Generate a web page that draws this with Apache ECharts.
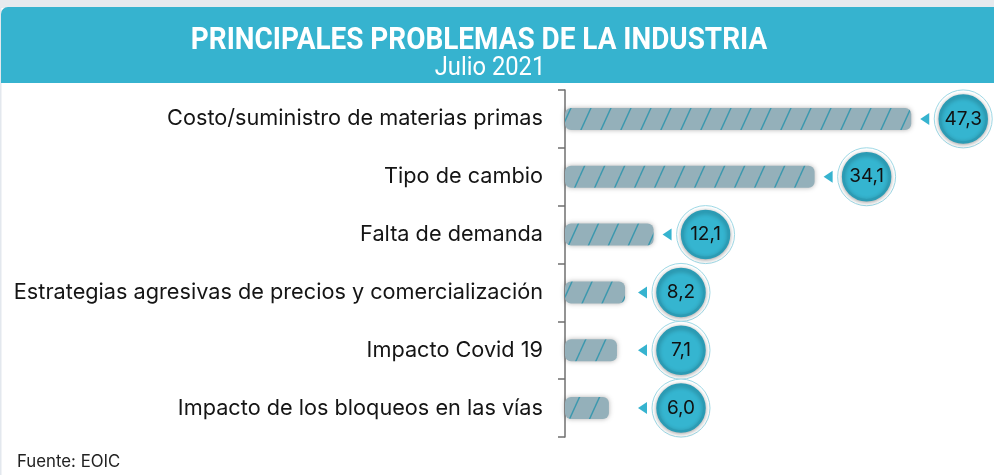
<!DOCTYPE html>
<html>
<head>
<meta charset="utf-8">
<script src="https://cdn.jsdelivr.net/npm/echarts@6/dist/echarts.min.js"></script>
<style>
html, body { margin: 0; padding: 0; background: #fff; }
#main { width: 994px; height: 475px; }
</style>
</head>
<body>
<div id="main"></div>
<script>
var categorias = [
    'Costo/suministro de materias primas',
    'Tipo de cambio',
    'Falta de demanda',
    'Estrategias agresivas de precios y comercialización',
    'Impacto Covid 19',
    'Impacto de los bloqueos en las vías'
];
var valores = [47.3, 34.1, 12.1, 8.2, 7.1, 6.0];

var titulo = 'PRINCIPALES PROBLEMAS DE LA INDUSTRIA';
var subtitulo = 'Julio 2021';
var fuente = 'Fuente: EOIC';

// trama de rayas para las barras
var trama = document.createElement('canvas');
trama.width = 20;
trama.height = 44;
var ctx = trama.getContext('2d');
ctx.fillStyle = '#94b0ba';
ctx.fillRect(0, 0, 20, 44);
ctx.strokeStyle = '#3b98ae';
ctx.lineWidth = 1.4;
for (var dx = -20; dx <= 20; dx += 20) {
    ctx.beginPath();
    ctx.moveTo(dx, 44);
    ctx.lineTo(dx + 20, 0);
    ctx.stroke();
}

var myChart = echarts.init(document.getElementById('main'));

var burbujas = valores.map(function (v, i) { return [v, i]; });

option = {
    backgroundColor: '#fff',
    animation: false,
    grid: { left: 565, right: 63, top: 90, bottom: 38 },
    xAxis: { type: 'value', min: 0, max: 50, show: false },
    yAxis: {
        type: 'category',
        inverse: true,
        data: categorias,
        offset: 12,
        axisLine: { lineStyle: { color: '#6f6f6f', width: 1.5 } },
        axisTick: { show: true, length: 7, lineStyle: { color: '#6f6f6f', width: 1.5 } },
        axisLabel: { color: '#151515', fontSize: 21.7, fontFamily: 'Inter', margin: 10 }
    },
    graphic: [
        { type: 'rect', shape: { x: 0, y: 0, width: 994, height: 8 }, style: { fill: '#e6eaee' }, silent: true },
        { type: 'rect', shape: { x: 0, y: 7, width: 1.5, height: 470 }, style: { fill: '#e3e8ee' }, silent: true },
        { type: 'rect', shape: { x: 1, y: 7, width: 1000, height: 76, r: [7, 0, 0, 0] }, style: { fill: '#36b3cf' }, silent: true },
        {
            type: 'text', x: 479, y: 41, scaleX: 0.9,
            style: { text: titulo, fill: '#fff', font: 'bold 31px Roboto', textAlign: 'center', textVerticalAlign: 'middle' }
        },
        {
            type: 'text', x: 490, y: 69, scaleX: 0.95,
            style: { text: subtitulo, fill: '#fff', font: '25px Roboto', textAlign: 'center', textVerticalAlign: 'middle' }
        },
        {
            type: 'text', x: 17, y: 462,
            style: { text: fuente, fill: '#222', font: '16.8px Inter', textAlign: 'left', textVerticalAlign: 'middle' }
        }
    ],
    series: [
        {
            type: 'bar',
            data: valores,
            barWidth: 22,
            itemStyle: {
                color: { image: trama, repeat: 'repeat' },
                borderRadius: 6,
                shadowBlur: 5,
                shadowColor: 'rgba(0,0,0,0.3)'
            }
        },
        {
            type: 'custom',
            data: burbujas,
            renderItem: function (params, api) {
                var v = api.value(0);
                var p = api.coord([v, api.value(1)]);
                var x0 = api.coord([0, api.value(1)])[0];
                var cx = Math.max(p[0] + 52, x0 + 116);
                var cy = p[1];
                var tip = cx - 43;
                return {
                    type: 'group',
                    children: [
                        { type: 'polygon', shape: { points: [[tip, cy], [tip + 9, cy - 6], [tip + 9, cy + 6]] }, style: { fill: '#36b3cf' } },
                        { type: 'circle', shape: { cx: cx, cy: cy, r: 29 }, style: { fill: '#fff', stroke: '#9fd9e6', lineWidth: 1 } },
                        {
                            type: 'circle', shape: { cx: cx, cy: cy, r: 23.5 },
                            style: { fill: '#35b5d0', stroke: '#2b9bb4', lineWidth: 2.5, shadowBlur: 4, shadowColor: 'rgba(0,0,0,0.3)', shadowOffsetY: 1 }
                        },
                        {
                            type: 'text', x: cx, y: cy,
                            style: { text: v.toFixed(1).replace('.', ','), fill: '#111', font: '19px Inter', textAlign: 'center', textVerticalAlign: 'middle' }
                        }
                    ]
                };
            }
        }
    ]
};

myChart.setOption(option);
</script>
</body>
</html>
